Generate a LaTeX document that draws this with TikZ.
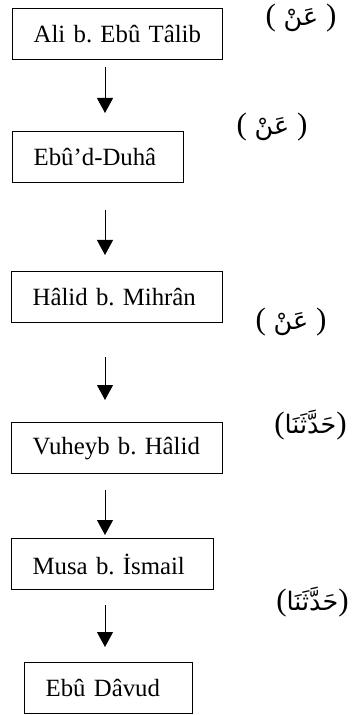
\documentclass[tikz,border=0pt]{standalone}
\usepackage{fontspec}
\setmainfont{Liberation Serif}
\newfontfamily\arabicfont[Script=Arabic,Scale=0.82]{DejaVu Sans}
\TeXXeTstate=1
\frenchspacing
\usetikzlibrary{arrows.meta}

\tikzset{
  ravi/.style={draw, line width=0.65pt, anchor=north west, minimum height=25.5pt,
    inner xsep=10.5pt, inner ysep=0pt, align=left, font=\fontsize{12.4}{15}\selectfont},
  sigha/.style={font=\fontsize{15.5}{18}\selectfont, inner sep=0pt},
  zincir/.style={line width=0.5pt, -{Triangle[width=8pt,length=7.5pt]}}
}

\begin{document}
\begin{tikzpicture}[x=0.5pt, y=-0.5pt]
        \useasboundingbox (0,0) rectangle (354,715);

        \node[ravi, text width=84pt]   (ali)    at (12,8)   {Ali b. Ebû Tâlib};
        \node[ravi, text width=64.5pt] (duha)   at (12,131) {Ebû’d-Duhâ};
        \node[ravi, text width=84.5pt] (halid)  at (11,271) {Hâlid b. Mihrân};
        \node[ravi, text width=84.5pt] (vuheyb) at (11,422) {Vuheyb b. Hâlid};
        \node[ravi, text width=80pt]   (musa)   at (11,538) {Musa b. İsmail};
        \node[ravi, text width=63pt]   (davud)  at (24,662) {Ebû Dâvud};

        \node[sigha] (s1) at (301,18)  {(\ {\arabicfont\beginR عَنْ\endR}\ )};
        \node[sigha] (s2) at (272,127) {(\ {\arabicfont\beginR عَنْ\endR}\ )};
        \node[sigha] (s3) at (291,322) {(\ {\arabicfont\beginR عَنْ\endR}\ )};
        \node[sigha, anchor=east] (s4) at (347,425) {({\arabicfont\beginR حَدَّثَنَا\endR})};
        \node[sigha, anchor=east] (s5) at (349,602) {({\arabicfont\beginR حَدَّثَنَا\endR})};

        \coordinate (o1) at (105,67);  \coordinate (u1) at (105,113);
        \coordinate (o2) at (105,210); \coordinate (u2) at (105,255);
        \coordinate (o3) at (105,357); \coordinate (u3) at (105,400);
        \coordinate (o4) at (105,490); \coordinate (u4) at (105,535);
        \coordinate (o5) at (105,605); \coordinate (u5) at (105,647);

        \draw[zincir] (o1) -- (u1);
        \draw[zincir] (o2) -- (u2);
        \draw[zincir] (o3) -- (u3);
        \draw[zincir] (o4) -- (u4);
        \draw[zincir] (o5) -- (u5);
\end{tikzpicture}
\end{document}
